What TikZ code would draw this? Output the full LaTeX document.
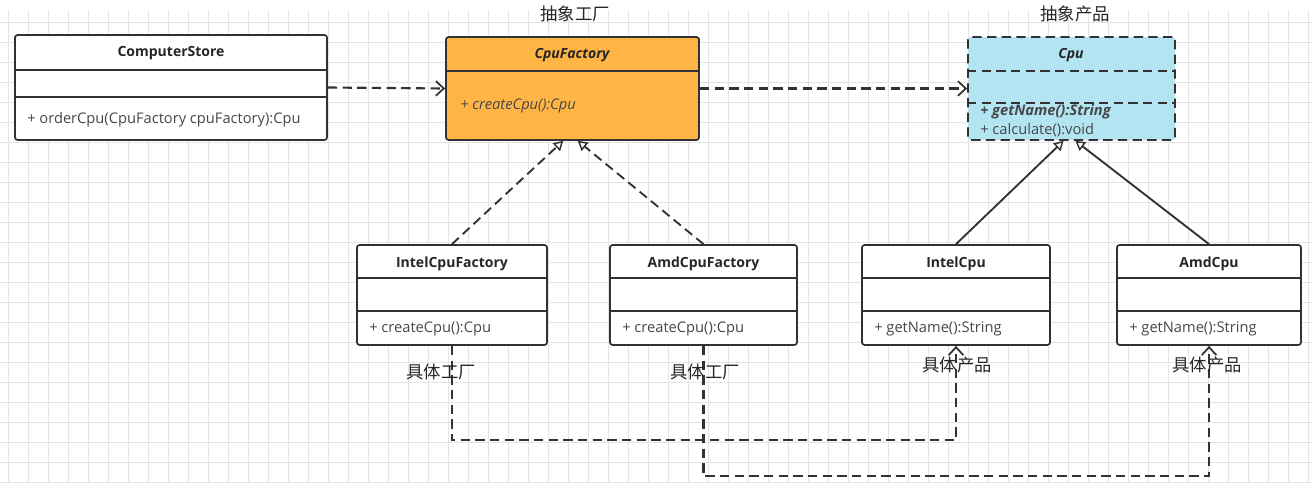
\documentclass[tikz,border=0pt]{standalone}
\usepackage{fontspec}
\setmainfont{Open Sans}
\newfontfamily\cjk{Noto Sans CJK SC}
\usetikzlibrary{arrows.meta,fit}

\definecolor{facfill}{RGB}{255,181,70}
\definecolor{cpufill}{RGB}{178,228,242}
\definecolor{linecol}{RGB}{50,50,50}
\definecolor{gridcol}{RGB}{228,228,228}

\tikzset{
  classbox/.style={draw=linecol, line width=1.3pt, rounded corners=2pt, fill=white, inner sep=0pt},
  divider/.style={draw=linecol, line width=1.3pt},
  title/.style={font=\bfseries\fontsize{10.5}{12}\selectfont, text=black!85},
  member/.style={font=\fontsize{11}{13}\selectfont, text=black!72, anchor=west, inner sep=0pt},
  note/.style={font=\cjk\fontsize{13}{15}\selectfont, text=black!85},
  dashline/.style={dash pattern=on 7pt off 4pt},
  depline/.style={draw=linecol, line width=1.6pt, dashline,
    -{Straight Barb[length=6pt,width=11pt,line width=1.3pt]}},
  realize/.style={draw=linecol, line width=1.4pt,
    -{Triangle[length=7pt,width=8pt,fill=white,line width=1.1pt]}},
  gridline/.style={draw=gridcol, line width=0.5pt}
}

\begin{document}
\begin{tikzpicture}[x=0.75pt, y=-0.75pt]

\newcommand\TOPY{245}
\newcommand\BOTY{345}

\useasboundingbox (0,0) rectangle (1312,490);
\fill[white] (0,0) rectangle (1312,490);

% background grid
\foreach \gx in {8,28,...,1312} \draw[gridline] (\gx,10) -- (\gx,482);
\foreach \gy in {22,42,...,482} \draw[gridline] (0,\gy) -- (1312,\gy);

%% top row
\node[classbox, fit={(15,35) (327,140)}] (store) {}; % ComputerStore
\node[classbox, fill=facfill, fit={(446,37) (699,140)}] (cfac) {}; % CpuFactory
\node[classbox, fill=cpufill, dashline, fit={(968,37) (1175,140)}] (cpu) {}; % Cpu

\draw[divider] (store.west |- 0,70) -- (store.east |- 0,70);
\draw[divider] (store.west |- 0,97) -- (store.east |- 0,97);
\draw[divider] (cfac.west |- 0,71) -- (cfac.east |- 0,71);
\draw[divider, dashline] (cpu.west |- 0,71) -- (cpu.east |- 0,71);
\draw[divider, dashline] (cpu.west |- 0,103) -- (cpu.east |- 0,103);

\node[title] (storet) at (171,53) {ComputerStore};
\node[member] (storem) at (27,120) {+ orderCpu(CpuFactory cpuFactory):Cpu};
\node[title, font=\bfseries\itshape\fontsize{10.5}{12}\selectfont] (cfact) at (572,55) {CpuFactory};
\node[member, font=\itshape\fontsize{11}{13}\selectfont] (cfacm) at (460,106) {+ createCpu():Cpu};
\node[title, font=\bfseries\itshape\fontsize{10.5}{12}\selectfont] (cput) at (1071,55) {Cpu};
\node[member, font=\bfseries\itshape\fontsize{11}{13}\selectfont] (cpum1) at (980,112) {+ getName():String};
\node[member] (cpum2) at (980,130) {+ calculate():void};

\node[note] (absfac) at (575,14) {抽象工厂};
\node[note] (abscpu) at (1075,14) {抽象产品};

%% bottom row
\node[classbox, fit={(357,\TOPY) (547,\BOTY)}] (ifac) {}; % IntelCpuFactory
\node[classbox, fit={(610,\TOPY) (797,\BOTY)}] (afac) {}; % AmdCpuFactory
\node[classbox, fit={(862,\TOPY) (1050,\BOTY)}] (icpu) {}; % IntelCpu
\node[classbox, fit={(1117,\TOPY) (1301,\BOTY)}] (acpu) {}; % AmdCpu

\foreach \b in {ifac,afac,icpu,acpu} {
  \draw[divider] (\b.west |- 0,278) -- (\b.east |- 0,278);
  \draw[divider] (\b.west |- 0,311) -- (\b.east |- 0,311);
}

\node[title] (ifact) at (ifac.center |- 0,264) {IntelCpuFactory};
\node[title] (afact) at (afac.center |- 0,264) {AmdCpuFactory};
\node[title] (icput) at (icpu.center |- 0,264) {IntelCpu};
\node[title] (acput) at (acpu.center |- 0,264) {AmdCpu};
\node[member] (ifacm) at (369,329) {+ createCpu():Cpu};
\node[member] (afacm) at (622,329) {+ createCpu():Cpu};
\node[member] (icpum) at (874,329) {+ getName():String};
\node[member] (acpum) at (1129,329) {+ getName():String};

%% connectors
\draw[depline] (store.east) -- (cfac.west);
\draw[depline] (cfac.east) -- (cpu.west);

\draw[realize, dashline] (ifac.north) -- ([xshift=-7pt]cfac.south);
\draw[realize, dashline] (afac.north) -- ([xshift=4pt]cfac.south);
\draw[realize] (icpu.north) -- ([xshift=-6pt]cpu.south);
\draw[realize] (acpu.north) -- ([xshift=3pt]cpu.south);

\draw[depline] (ifac.south) -- (ifac.south |- 0,440) -| (icpu.south);
\draw[depline] (afac.south) -- (afac.south |- 0,476) -| (acpu.south);

\node[note] (ifacn) at (441,372) {具体工厂};
\node[note] (afacn) at (705,372) {具体工厂};
\node[note] (icpun) at (957,365) {具体产品};
\node[note] (acpun) at (1207,365) {具体产品};

\end{tikzpicture}
\end{document}
